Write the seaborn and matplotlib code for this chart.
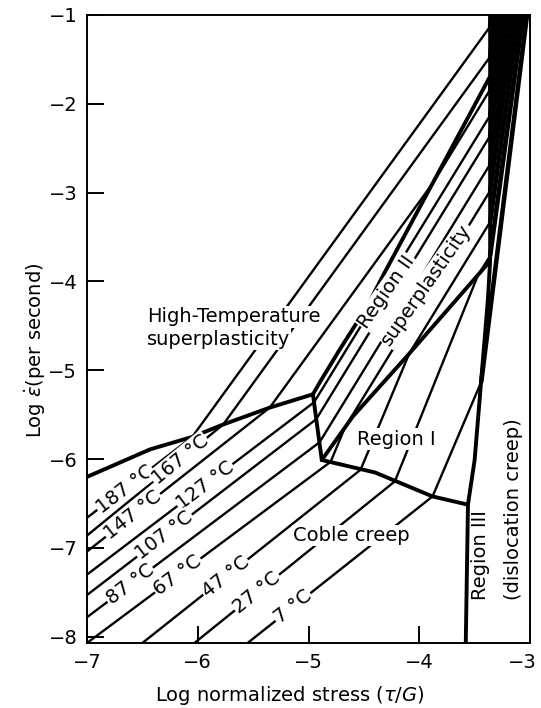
import numpy as np
import pandas as pd
import matplotlib
matplotlib.use("Agg")
import matplotlib.pyplot as plt
import matplotlib.transforms as mtransforms
import seaborn as sns

sns.set_theme(style="white")
plt.rcParams["font.family"] = ["DejaVu Sans"]
plt.rcParams["mathtext.fontset"] = "dejavusans"
plt.rcParams["text.color"] = "black"
plt.rcParams["axes.labelcolor"] = "black"
plt.rcParams["xtick.color"] = "black"
plt.rcParams["ytick.color"] = "black"

# Isotherms: vertices as (log normalized stress, log strain rate)
temps = [187, 167, 147, 127, 107, 87, 67, 47, 27, 7]

x_187 = [-7.00, -6.05, -3.36, -3.352]
y_187 = [-6.66, -5.75, -1.13, -1.00]
x_167 = [-7.00, -5.77, -3.36, -3.316]
y_167 = [-6.86, -5.61, -1.47, -1.00]
x_147 = [-7.00, -5.35, -3.87, -3.36, -3.280]
y_147 = [-7.04, -5.42, -2.88, -1.84, -1.00]
x_127 = [-7.00, -4.95, -3.36, -3.244]
y_127 = [-7.30, -5.36, -2.13, -1.00]
x_107 = [-7.00, -4.93, -3.36, -3.208]
y_107 = [-7.53, -5.55, -2.36, -1.00]
x_87 = [-7.00, -4.90, -3.36, -3.172]
y_87 = [-7.78, -5.81, -2.68, -1.00]
x_67 = [-7.00, -4.80, -4.67, -3.36, -3.135]
y_67 = [-8.07, -6.03, -5.64, -2.98, -1.00]
x_47 = [-6.50, -4.53, -4.09, -3.36, -3.099]
y_47 = [-8.07, -6.12, -4.81, -3.33, -1.00]
x_27 = [-6.03, -4.22, -3.47, -3.36, -3.063]
y_27 = [-8.07, -6.25, -3.93, -3.71, -1.00]
x_7 = [-5.55, -3.88, -3.44, -3.027]
y_7 = [-8.07, -6.42, -5.13, -1.00]

# where each temperature label sits along its Coble-creep segment
label_x = [-6.66, -6.16, -6.585, -5.935, -6.30, -6.61, -6.18, -5.75, -5.465, -5.14]

# Mechanism boundaries
coble_ht_x = [-7.00, -6.43, -6.05, -5.77, -5.35, -4.96]
coble_ht_y = [-6.20, -5.89, -5.75, -5.61, -5.42, -5.27]
coble_ii_x = [-4.96, -4.93, -4.88]
coble_ii_y = [-5.27, -5.55, -6.01]
coble_i_x = [-4.88, -4.40, -3.88, -3.57]
coble_i_y = [-6.01, -6.15, -6.42, -6.51]
i_ii_x = [-4.88, -4.60, -4.11, -3.36]
i_ii_y = [-6.01, -5.52, -4.84, -3.77]
ii_ht_x = [-4.96, -4.90, -4.72, -4.47, -4.33, -3.36]
ii_ht_y = [-5.27, -5.14, -4.77, -4.28, -3.94, -1.69]
iii_x = [-3.58, -3.56, -3.50, -3.38, -3.36, -3.36]
iii_y = [-8.07, -6.51, -6.01, -4.20, -3.77, -1.00]

iso_x = [x_187, x_167, x_147, x_127, x_107, x_87, x_67, x_47, x_27, x_7]
iso_y = [y_187, y_167, y_147, y_127, y_107, y_87, y_67, y_47, y_27, y_7]

rows, top_rows = [], []
for t, xs, ys in zip(temps, iso_x, iso_y):
    for i, (xv, yv) in enumerate(zip(xs, ys)):
        rows.append({"T": t, "order": i, "x": xv, "y": yv})
        if i >= len(xs) - 2:
            top_rows.append({"T": t, "order": i, "x": xv, "y": yv})
iso_df = pd.DataFrame(rows)
top_df = pd.DataFrame(top_rows)

bnd_rows = []
for name, bx, by in [("coble_ht", coble_ht_x, coble_ht_y),
                     ("coble_ii", coble_ii_x, coble_ii_y),
                     ("coble_i", coble_i_x, coble_i_y),
                     ("i_ii", i_ii_x, i_ii_y),
                     ("ii_ht", ii_ht_x, ii_ht_y),
                     ("iii", iii_x, iii_y)]:
    for i, (xv, yv) in enumerate(zip(bx, by)):
        bnd_rows.append({"b": name, "order": i, "x": xv, "y": yv})
bnd_df = pd.DataFrame(bnd_rows)

fig = plt.figure(figsize=(5.41, 7.08), dpi=100)
ax = fig.add_axes([87 / 541, 1 - 643 / 708, 443 / 541, 628 / 708])
ax.set_xlim(-7, -3)
ax.set_ylim(-8.07, -1.0)

sns.lineplot(data=iso_df, x="x", y="y", units="T", estimator=None, sort=False,
             color="black", lw=1.7, ax=ax, legend=False, zorder=2)
# the steep dislocation-creep ends merge into a dark fan
sns.lineplot(data=top_df, x="x", y="y", units="T", estimator=None, sort=False,
             color="black", lw=3.3, ax=ax, legend=False, zorder=2)
sns.lineplot(data=bnd_df, x="x", y="y", units="b", estimator=None, sort=False,
             color="black", lw=2.8, ax=ax, legend=False, zorder=3,
             solid_joinstyle="round", solid_capstyle="round")

box = dict(boxstyle="square,pad=0.06", fc="white", ec="none")
fs = 14

# temperature labels placed on their isotherms, rotated with the line
for t, xs, ys, lx in zip(temps, iso_x, iso_y, label_x):
    ly = np.interp(lx, xs[:2], ys[:2])
    p0 = ax.transData.transform((xs[0], ys[0]))
    p1 = ax.transData.transform((xs[1], ys[1]))
    ang = np.degrees(np.arctan2(p1[1] - p0[1], p1[0] - p0[0]))
    ax.text(lx, ly, f"{t} °C", rotation=ang, rotation_mode="anchor",
            ha="center", va="center", fontsize=fs, bbox=box, zorder=5)

ax.text(-6.458, -4.46, "High-Temperature", fontsize=fs, ha="left",
        va="baseline", bbox=box, zorder=5)
ax.text(-6.458, -4.71, "superplasticity", fontsize=fs, ha="left",
        va="baseline", bbox=box, zorder=5)
ax.text(-4.562, -5.836, "Region I", fontsize=fs, ha="left", va="baseline",
        bbox=box, zorder=5)
ax.text(-5.14, -6.92, "Coble creep", fontsize=fs, ha="left", va="baseline",
        bbox=box, zorder=5)
ax.text(-4.472, -4.54, "Region II", fontsize=fs, rotation=55,
        rotation_mode="anchor", ha="left", va="baseline", bbox=box, zorder=5)
ax.text(-4.264, -4.732, "superplasticity", fontsize=fs, rotation=55,
        rotation_mode="anchor", ha="left", va="baseline", bbox=box, zorder=5)
ax.text(-3.397, -7.584, "Region III", fontsize=fs, rotation=90,
        rotation_mode="anchor", ha="left", va="baseline", zorder=5)
ax.text(-3.099, -7.584, "(dislocation creep)", fontsize=fs, rotation=90,
        rotation_mode="anchor", ha="left", va="baseline", zorder=5)

ax.set_xticks([-7, -6, -5, -4, -3])
ax.set_yticks([-1, -2, -3, -4, -5, -6, -7, -8])
ax.tick_params(axis="both", which="both", direction="in", length=12, width=1.4,
               labelsize=14, pad=7, bottom=True, left=True, top=False,
               right=False, colors="black")
for s in ax.spines.values():
    s.set_color("black")
    s.set_linewidth(1.4)

# keep the last x tick label inside the figure
last = ax.get_xticklabels()[-1]
last.set_transform(last.get_transform()
                   + mtransforms.ScaledTranslation(-8 / 100, 0, fig.dpi_scale_trans))

ax.set_xlabel(r"Log normalized stress ($\tau/G$)", fontsize=14)
ax.set_ylabel(r"Log $\dot{\varepsilon}$(per second)", fontsize=14)
ax.xaxis.set_label_coords(0.458, -0.065)
ax.yaxis.set_label_coords(-0.088, 0.4666)

fig.savefig("out.png", dpi=100)
